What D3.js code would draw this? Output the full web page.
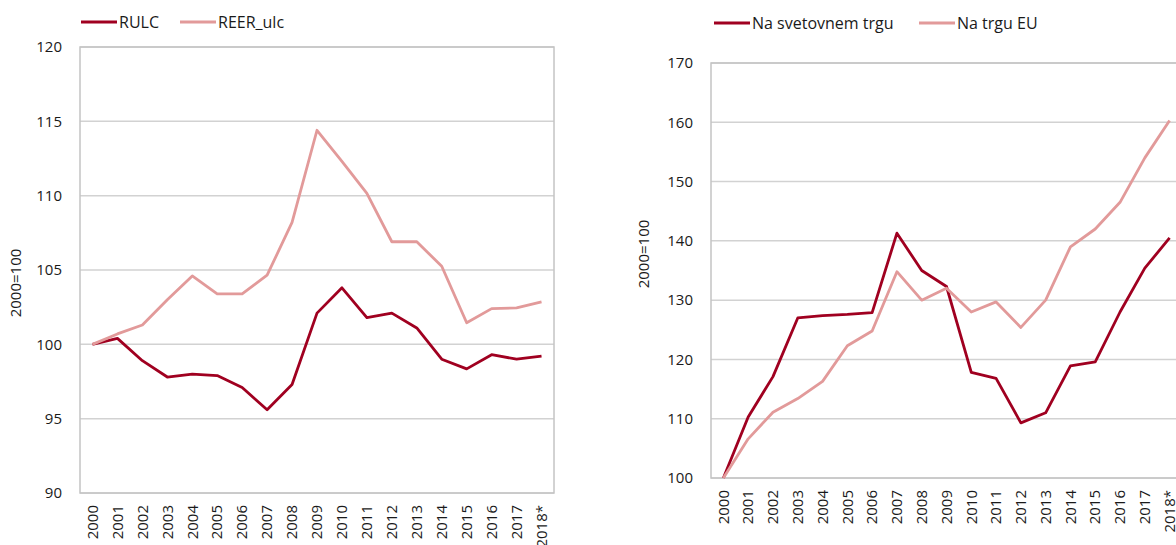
<!DOCTYPE html>
<html>
<head>
<meta charset="utf-8">
<script src="https://cdn.jsdelivr.net/npm/d3@7"></script>
<style>
  html, body { margin: 0; padding: 0; background: #fff; }
  svg { display: block; font-family: "Open Sans", "Noto Sans", sans-serif; }
</style>
</head>
<body>
<svg id="chart" width="1176" height="545"></svg>
<script>
// ---- data ----
const years = ["2000","2001","2002","2003","2004","2005","2006","2007","2008","2009",
               "2010","2011","2012","2013","2014","2015","2016","2017","2018*"];

// left chart
const rulc    = [100.0,100.4,98.9,97.8,98.0,97.9,97.1,95.6,97.3,102.1,103.8,101.8,102.1,101.1,99.0,98.35,99.3,99.0,99.2];
const reerUlc = [100.0,100.7,101.3,103.0,104.6,103.4,103.4,104.65,108.2,114.4,112.3,110.15,106.9,106.9,105.25,101.45,102.4,102.45,102.85];
const leftTicks = [90,95,100,105,110,115,120];
const leftNames = ["RULC","REER_ulc"];

// right chart
const world = [100.0,110.3,117.1,127.0,127.4,127.6,127.9,141.3,135.0,132.3,117.8,116.8,109.3,111.0,118.9,119.6,128.0,135.4,140.5];
const eu    = [100.0,106.6,111.1,113.4,116.3,122.3,124.8,134.8,130.0,132.0,128.0,129.7,125.4,130.0,139.0,142.0,146.5,154.0,160.3];
const rightTicks = [100,110,120,130,140,150,160,170];
const rightNames = ["Na svetovnem trgu","Na trgu EU"];

const axisTitle = "2000=100";
const colDark = "#A00020";
const colLight = "#E29A9A";

const svg = d3.select("#chart");

function drawChart(o) {
  const g = svg.append("g");
  const x = d3.scaleBand().domain(years).range([o.x0, o.x1]);
  const y = d3.scaleLinear().domain(o.domain).range([o.y1, o.y0]);

  // gridlines
  g.append("g").selectAll("line").data(o.ticks).join("line")
    .attr("x1", o.x0).attr("x2", o.x1)
    .attr("y1", d => y(d)).attr("y2", d => y(d))
    .attr("stroke", "#D2D2D2").attr("stroke-width", 1.5);

  // frame
  g.append("rect").attr("x", o.x0).attr("y", o.y0)
    .attr("width", o.x1 - o.x0).attr("height", o.y1 - o.y0)
    .attr("fill", "none").attr("stroke", "#C4C4C4").attr("stroke-width", 1.5);

  // y axis
  const ya = g.append("g").attr("transform", `translate(${o.x0},0)`)
    .call(d3.axisLeft(y).tickValues(o.ticks).tickSize(0).tickPadding(18).tickFormat(d3.format("d")));
  ya.select(".domain").remove();
  ya.selectAll("text").attr("font-size", 15).attr("fill", "#1a1a1a")
    .attr("font-family", "'Open Sans', sans-serif");

  // x axis
  const xa = g.append("g").attr("transform", `translate(0,${o.y1})`)
    .call(d3.axisBottom(x).tickSize(0));
  xa.select(".domain").remove();
  xa.selectAll("text")
    .attr("font-size", 15).attr("fill", "#1a1a1a")
    .attr("font-family", "'Open Sans', sans-serif")
    .attr("transform", "rotate(-90)")
    .attr("text-anchor", "end")
    .attr("x", -12).attr("y", 0).attr("dy", "0.35em");

  // y title
  g.append("text")
    .attr("transform", `translate(${o.titleX},${o.titleY}) rotate(-90)`)
    .attr("text-anchor", "middle").attr("dy", "0.35em")
    .attr("font-size", 15).attr("fill", "#1a1a1a")
    .text(axisTitle);

  // lines
  const line = d3.line().x((d, i) => x(years[i]) + x.bandwidth() / 2).y(d => y(d));
  o.series.forEach((s, k) => {
    g.append("path").datum(s.values)
      .attr("fill", "none").attr("stroke", s.color)
      .attr("stroke-width", 2.8).attr("stroke-linejoin", "round")
      .attr("d", line);
  });

  // legend
  o.series.forEach((s, k) => {
    const lx = o.legendX[k];
    g.append("line").attr("x1", lx).attr("x2", lx + 36)
      .attr("y1", o.legendY).attr("y2", o.legendY)
      .attr("stroke", s.color).attr("stroke-width", 3);
    g.append("text").attr("x", lx + 38).attr("y", o.legendY).attr("dy", "0.35em")
      .attr("font-size", 16).attr("fill", "#1a1a1a").text(s.name);
  });
}

drawChart({
  x0: 80, x1: 554, y0: 47, y1: 493, domain: [90, 120], ticks: leftTicks,
  titleX: 16, titleY: 283,
  legendX: [81, 180], legendY: 22,
  series: [
    {name: leftNames[1], values: reerUlc, color: colLight},
    {name: leftNames[0], values: rulc, color: colDark}
  ].reverse()
});

drawChart({
  x0: 711, x1: 1182, y0: 63, y1: 478, domain: [100, 170], ticks: rightTicks,
  titleX: 644, titleY: 254,
  legendX: [714, 919], legendY: 23,
  series: [
    {name: rightNames[0], values: world, color: colDark},
    {name: rightNames[1], values: eu, color: colLight}
  ]
});
</script>
</body>
</html>
